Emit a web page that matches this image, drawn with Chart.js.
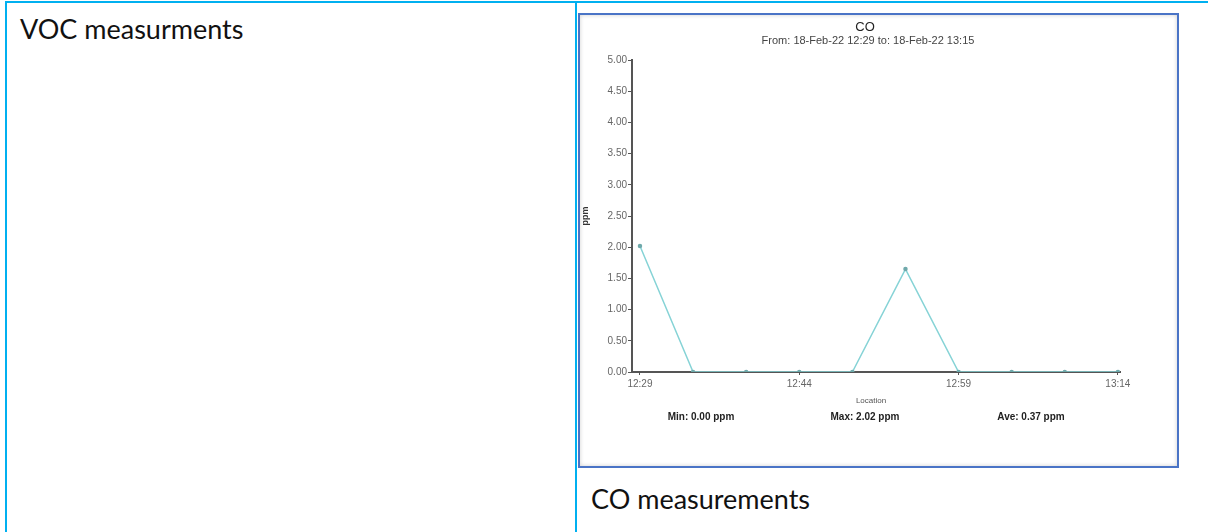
<!DOCTYPE html>
<html>
<head>
<meta charset="utf-8">
<script src="https://cdn.jsdelivr.net/npm/chart.js@4"></script>
<style>
  html, body { margin: 0; padding: 0; background: #fff; }
  body { width: 1208px; height: 532px; position: relative; overflow: hidden; font-family: Lato, "Noto Sans", sans-serif; }
  .line { position: absolute; background: #00b0f0; }
  .cell-text { position: absolute; font-size: 27px; color: #111; white-space: nowrap; line-height: 1; }
  #box { position: absolute; left: 578px; top: 13px; width: 601px; height: 455px; box-sizing: border-box;
         border: 2px solid #4a74c6; box-shadow: inset 0 0 4px #cfcfcf; background: #fff; }
  #chart { position: absolute; left: 580px; top: 15px; }
</style>
</head>
<body>
<div class="line" style="left:5px;top:1px;width:1203px;height:2px"></div>
<div class="line" style="left:5px;top:1px;width:2px;height:531px"></div>
<div class="line" style="left:575px;top:1px;width:2px;height:531px"></div>

<div class="cell-text" id="voc" style="left:20px;top:15px">VOC measurments</div>
<div class="cell-text" id="cap" style="left:591px;top:485px">CO measurements</div>

<div id="box"></div>
<canvas id="chart" width="597" height="451"></canvas>

<script>
// CO readings, one every 5 min
const timeLabels = ['12:29', '12:34', '12:39', '12:44', '12:49', '12:54', '12:59', '13:04', '13:09', '13:14'];
const coValues = [2.02, 0, 0, 0, 0, 1.65, 0, 0, 0, 0];
const xTickIdx = [0, 3, 6, 9];
const chartTitle = 'CO';
const chartSubtitle = 'From: 18-Feb-22 12:29 to: 18-Feb-22 13:15';
const xTitle = 'Location';
const unit = 'ppm';

const minV = Math.min(...coValues);
const maxV = Math.max(...coValues);
const aveV = coValues.reduce((a, b) => a + b, 0) / coValues.length;

// titre, axe x et stats dessinés à la main
const textPlugin = {
    id: 'texts',
    afterDraw(chart) {
        const ctx = chart.ctx;
        const a = chart.chartArea;
        ctx.save();
        ctx.textAlign = 'center';
        ctx.textBaseline = 'middle';
        ctx.fillStyle = '#222';
        ctx.font = '13px "Liberation Sans", Arial, sans-serif';
        ctx.fillText(chartTitle, 285, 12);
        ctx.fillStyle = '#444';
        ctx.font = '11px "Liberation Sans", Arial, sans-serif';
        ctx.fillText(chartSubtitle, 288, 26);

        ctx.fillStyle = '#555';
        ctx.font = '8px "Liberation Sans", Arial, sans-serif';
        ctx.fillText(xTitle, (a.left + a.right) / 2 - 5, a.bottom + 29);

        ctx.fillStyle = '#222';
        ctx.font = 'bold 10px "Liberation Sans", Arial, sans-serif';
        const y = a.bottom + 45;
        ctx.fillText('Min: ' + minV.toFixed(2) + ' ' + unit, 121, y);
        ctx.fillText('Max: ' + maxV.toFixed(2) + ' ' + unit, 285, y);
        ctx.fillText('Ave: ' + aveV.toFixed(2) + ' ' + unit, 451, y);
        ctx.restore();
    }
};

const ctx = document.getElementById('chart').getContext('2d');
new Chart(ctx, {
    type: 'line',
    data: {
        datasets: [{
            label: chartTitle,
            data: coValues.map((v, i) => ({ x: i, y: v })),
            borderColor: '#86d3d6',
            borderWidth: 1.5,
            pointRadius: 1.5,
            pointBackgroundColor: '#6fa9ab',
            pointBorderColor: '#6fa9ab',
            tension: 0
        }]
    },
    options: {
        responsive: false,
        animation: false,
        devicePixelRatio: 1,
        layout: { padding: { top: 45, right: 57, left: 0, bottom: 0 } },
        plugins: {
            legend: { display: false },
            tooltip: { enabled: false }
        },
        scales: {
            x: {
                type: 'linear',
                min: -0.15,
                max: 9.04,
                afterBuildTicks: s => { s.ticks = xTickIdx.map(v => ({ value: v })); },
                afterFit: s => { s.height = 94; },
                ticks: {
                    callback: v => timeLabels[v],
                    font: { size: 10, family: '"Liberation Sans", Arial' },
                    color: '#666',
                    padding: 3,
                    maxRotation: 0
                },
                grid: { drawOnChartArea: false, tickLength: 3, color: '#555' },
                border: { color: '#555', width: 2 }
            },
            y: {
                min: 0,
                max: 5,
                afterFit: s => { s.width = 52; },
                ticks: {
                    stepSize: 0.5,
                    callback: v => v.toFixed(2),
                    font: { size: 10, family: '"Liberation Sans", Arial' },
                    color: '#666',
                    padding: 1
                },
                grid: { drawOnChartArea: false, tickLength: 4, color: '#555' },
                border: { color: '#555', width: 2 },
                title: {
                    display: true,
                    text: unit,
                    font: { size: 9, weight: 'bold', family: '"Liberation Sans", Arial' },
                    color: '#333',
                    padding: 0
                }
            }
        }
    },
    plugins: [textPlugin]
});
</script>
</body>
</html>
